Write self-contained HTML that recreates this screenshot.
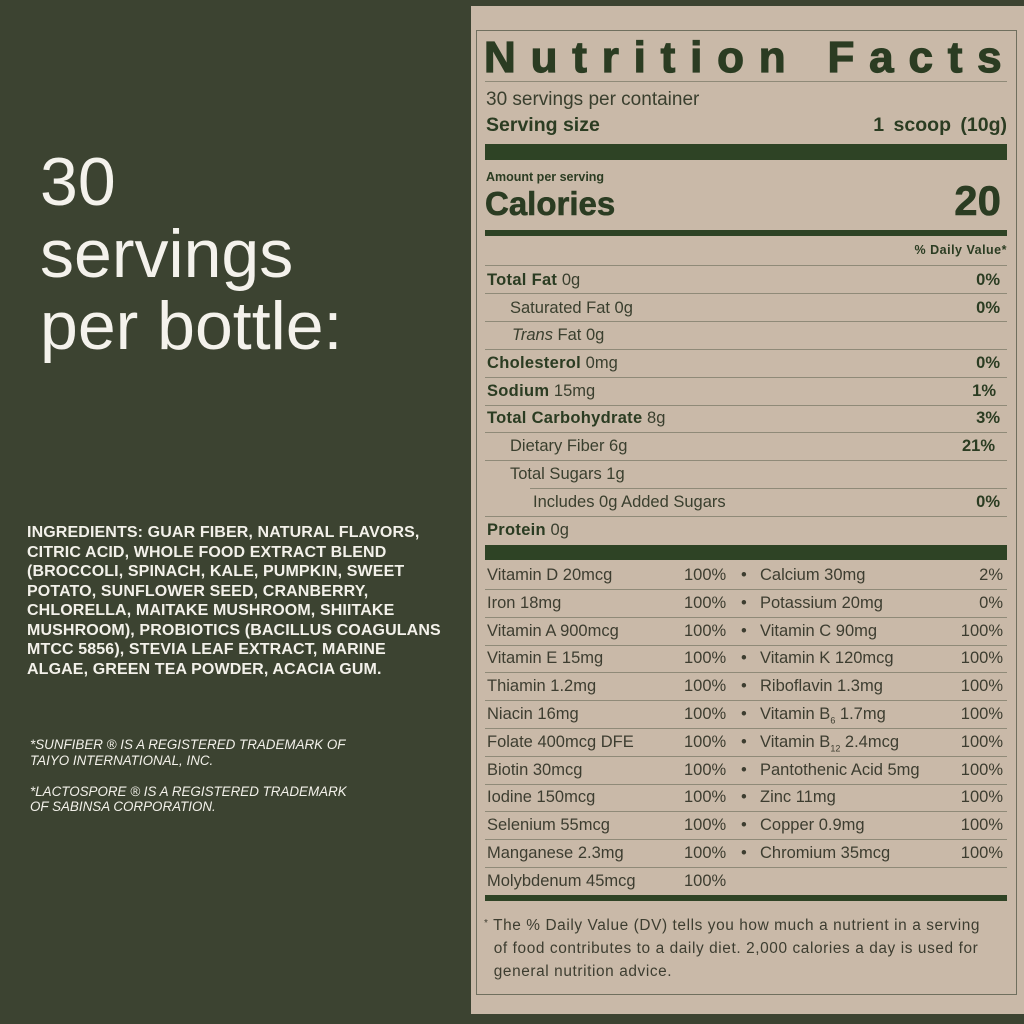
<!DOCTYPE html>
<html><head><meta charset="utf-8"><style>
*{margin:0;padding:0;box-sizing:border-box}
body{width:1024px;height:1024px;background:#3c4331;position:relative;overflow:hidden;font-family:"Liberation Sans",sans-serif}
.a{position:absolute;white-space:pre}
#panel{position:absolute;left:471px;top:6px;width:553px;height:1008px;background:#c9b9a8}
#inner{position:absolute;left:476px;top:30px;width:541px;height:965px;border:1.5px solid #6f6f5e}
.g{color:#2b3c22}
.bar{position:absolute;left:485px;width:522px;background:#2e4325}
.ln{position:absolute;left:485px;width:522px;height:1px;background:#8f8a78}
.row{position:absolute;left:487px;width:517px;height:28px;line-height:28px;font-size:16.5px;color:#3a3f2e}
.row b{color:#2b3c22;letter-spacing:0.3px}
.r{position:absolute;right:0;top:0;font-weight:bold;color:#2b3c22}
.v{position:absolute;height:28px;line-height:28px;font-size:16.5px;color:#3d3d30;white-space:pre}
</style></head><body>
<div class="a" style="left:40px;top:146px;font-size:68px;line-height:72px;color:#f4f2ec">30
servings
per bottle:</div>
<div class="a" style="left:27px;top:523px;font-size:16px;line-height:19.5px;font-weight:bold;color:#f3f1ea;letter-spacing:0.12px">INGREDIENTS: GUAR FIBER, NATURAL FLAVORS,
CITRIC ACID, WHOLE FOOD EXTRACT BLEND
(BROCCOLI, SPINACH, KALE, PUMPKIN, SWEET
POTATO, SUNFLOWER SEED, CRANBERRY,
CHLORELLA, MAITAKE MUSHROOM, SHIITAKE
MUSHROOM), PROBIOTICS (BACILLUS COAGULANS
MTCC 5856), STEVIA LEAF EXTRACT, MARINE
ALGAE, GREEN TEA POWDER, ACACIA GUM.</div>
<div class="a" style="left:30px;top:737px;font-size:13.4px;line-height:15.5px;font-style:italic;color:#f3f1ea">*SUNFIBER ® IS A REGISTERED TRADEMARK OF
TAIYO INTERNATIONAL, INC.

*LACTOSPORE ® IS A REGISTERED TRADEMARK
OF SABINSA CORPORATION.</div>

<div id="panel"></div>
<div id="inner"></div>
<div class="a g" style="left:484px;top:33px;font-size:44px;font-weight:bold;letter-spacing:14.8px;line-height:50px;-webkit-text-stroke:1.2px #2b3c22">Nutrition Facts</div>
<div class="ln" style="top:81px"></div>
<div class="a" style="left:486px;top:89px;font-size:19px;color:#3a3f2e">30 servings per container</div>
<div class="a g" style="left:486px;top:114px;font-size:19.5px;font-weight:bold">Serving size</div>
<div class="a g" style="right:17px;top:114px;font-size:19.5px;font-weight:bold;word-spacing:4px">1 scoop (10g)</div>
<div class="bar" style="top:144px;height:16px"></div>
<div class="a g" style="left:486px;top:170px;font-size:12.5px;font-weight:bold">Amount per serving</div>
<div class="a g" style="left:485px;top:185px;font-size:33px;font-weight:bold;-webkit-text-stroke:0.6px #2b3c22">Calories</div>
<div class="a g" style="right:23px;top:177px;font-size:42px;font-weight:bold;-webkit-text-stroke:0.6px #2b3c22">20</div>
<div class="bar" style="top:230px;height:6px"></div>
<div class="a g" style="right:17px;top:243px;font-size:12.5px;font-weight:bold;letter-spacing:0.5px">% Daily Value*</div>
<div class="ln" style="top:265px"></div>

<div class="row" style="top:266px"><b>Total Fat</b> 0g<span class="r" style="right:4px">0%</span></div>
<div class="ln" style="top:293px"></div>
<div class="row" style="top:294px;padding-left:23px">Saturated Fat 0g<span class="r" style="right:4px">0%</span></div>
<div class="ln" style="top:321px"></div>
<div class="row" style="top:321px;padding-left:25px"><i>Trans</i> Fat 0g</div>
<div class="ln" style="top:349px"></div>
<div class="row" style="top:349px"><b>Cholesterol</b> 0mg<span class="r" style="right:4px">0%</span></div>
<div class="ln" style="top:377px"></div>
<div class="row" style="top:377px"><b>Sodium</b> 15mg<span class="r" style="right:8px">1%</span></div>
<div class="ln" style="top:405px"></div>
<div class="row" style="top:404px"><b>Total Carbohydrate</b> 8g<span class="r" style="right:4px">3%</span></div>
<div class="ln" style="top:432px"></div>
<div class="row" style="top:432px;padding-left:23px">Dietary Fiber 6g<span class="r" style="right:9px">21%</span></div>
<div class="ln" style="top:460px"></div>
<div class="row" style="top:460px;padding-left:23px">Total Sugars  1g</div>
<div class="ln" style="top:488px;left:530px;width:477px"></div>
<div class="row" style="top:488px;padding-left:46px">Includes 0g Added Sugars<span class="r" style="right:4px">0%</span></div>
<div class="ln" style="top:516px"></div>
<div class="row" style="top:516px"><b>Protein</b> 0g</div>
<div class="bar" style="top:545px;height:15px"></div>

<div id="vit"></div>
<div class="bar" style="top:895px;height:6px"></div>
<div class="a" style="left:484px;top:912px;font-size:15.4px;line-height:23px;color:#3d3d30;letter-spacing:0.6px"><span style="font-size:10px;vertical-align:4px">*</span> The % Daily Value (DV) tells you how much a nutrient in a serving
  of food contributes to a daily diet. 2,000 calories a day is used for
  general nutrition advice.</div>
<script>
var d=[["Vitamin D 20mcg","100%","Calcium 30mg","2%"],["Iron 18mg","100%","Potassium 20mg","0%"],["Vitamin A 900mcg","100%","Vitamin C 90mg","100%"],["Vitamin E 15mg","100%","Vitamin K 120mcg","100%"],["Thiamin 1.2mg","100%","Riboflavin 1.3mg","100%"],["Niacin 16mg","100%","Vitamin B<sub style='font-size:9px'>6</sub> 1.7mg","100%"],["Folate 400mcg DFE","100%","Vitamin B<sub style='font-size:9px'>12</sub> 2.4mcg","100%"],["Biotin 30mcg","100%","Pantothenic Acid 5mg","100%"],["Iodine 150mcg","100%","Zinc 11mg","100%"],["Selenium 55mcg","100%","Copper 0.9mg","100%"],["Manganese 2.3mg","100%","Chromium 35mcg","100%"],["Molybdenum 45mcg","100%",null,null]];
var h="";
d.forEach(function(r,i){var t=561+i*27.8;
h+='<div class="v" style="left:487px;top:'+t+'px">'+r[0]+'</div>';
h+='<div class="v" style="left:684px;top:'+t+'px">'+r[1]+'</div>';
if(r[2]){h+='<div class="v" style="left:741px;top:'+t+'px">•</div><div class="v" style="left:760px;top:'+t+'px">'+r[2]+'</div><div class="v" style="right:21px;top:'+t+'px">'+r[3]+'</div>';
h+='<div class="ln" style="top:'+(t+28)+'px"></div>';}
});
document.getElementById("vit").innerHTML=h;
</script>
</body></html>
